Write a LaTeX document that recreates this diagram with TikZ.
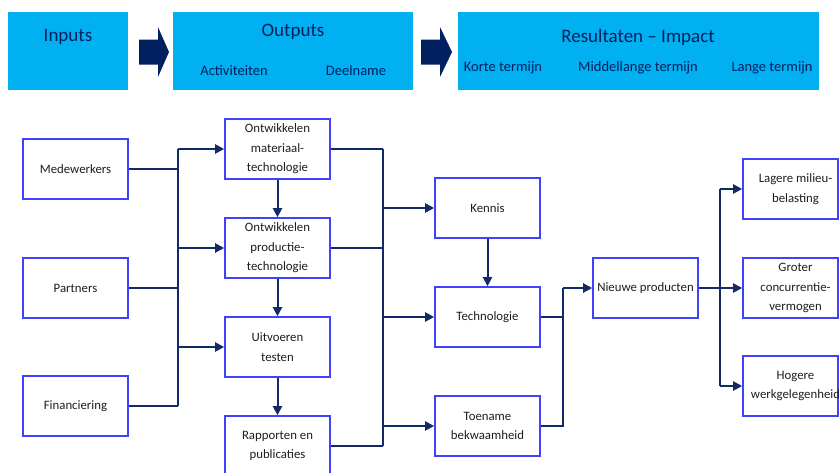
\documentclass[tikz,border=0pt]{standalone}
\usepackage{fontspec}
\setmainfont{Carlito}
\usetikzlibrary{arrows.meta}
\definecolor{banner}{RGB}{0,176,240}
\definecolor{navy}{RGB}{0,32,96}
\definecolor{linec}{RGB}{18,42,102}
\definecolor{boxblue}{RGB}{64,64,255}
\definecolor{txt}{RGB}{30,30,30}
\tikzset{
  banner/.style={fill=banner,draw=none},
  htitle/.style={text=navy,font=\fontsize{19}{22}\selectfont,inner sep=0pt},
  hsub/.style={text=navy,font=\fontsize{14.5}{17}\selectfont,inner sep=0pt},
  harrow/.style={fill=navy,draw=none},
  flowbox/.style={draw=boxblue,line width=1.6pt,fill=white,minimum width=105pt,minimum height=60pt,inner sep=0pt,align=center,text=txt,font=\fontsize{12.8}{19.5}\selectfont},
  sidebox/.style={flowbox,minimum width=95pt},
  boxtext/.style={inner sep=0pt,align=center,text=txt,font=\fontsize{12.8}{19.5}\selectfont},
  conn/.style={draw=linec,line width=2pt},
  arr/.style={conn,-{Triangle[length=9pt,width=9pt]}}
}
\begin{document}
\begin{tikzpicture}[x=1pt,y=-1pt]
\useasboundingbox (0,0) rectangle (839,472);
\clip (0,0) rectangle (839,472);
\fill[white] (0,0) rectangle (839,472);
% header banners
\fill[banner] (8,12) rectangle (128,90);
\node[htitle] (hin) at (68,37) {Inputs};
\fill[harrow] (139,39.5) -- (158,39.5) -- (158,27) -- (169,52) -- (158,77) -- (158,64.5) -- (139,64.5) -- cycle;
\fill[banner] (173,12) rectangle (413,90);
\node[htitle] (hout) at (293,32) {Outputs};
\node[hsub] (hact) at (234,71) {Activiteiten};
\node[hsub] (hdeel) at (356,71) {Deelname};
\fill[harrow] (421,39.5) -- (440,39.5) -- (440,27) -- (452,52) -- (440,77) -- (440,64.5) -- (421,64.5) -- cycle;
\fill[banner] (458,12) rectangle (819,90);
\node[htitle] (hres) at (638,37) {Resultaten – Impact};
\node[hsub] (hk) at (503,68) {Korte termijn};
\node[hsub] (hm) at (638,68) {Middellange termijn};
\node[hsub] (hl) at (772,68) {Lange termijn};
% boxes
\node[flowbox] (med) at (75.5,169) {Medewerkers};
\node[flowbox] (par) at (75.5,288) {Partners};
\node[flowbox] (fin) at (75.5,406) {Financiering};
\node[flowbox] (om) at (277.5,149) {Ontwikkelen\\materiaal-\\technologie};
\node[flowbox] (op) at (277.5,248) {Ontwikkelen\\productie-\\technologie};
\node[flowbox] (uit) at (277.5,347) {Uitvoeren\\testen};
\node[flowbox] (rap) at (277.5,446) {Rapporten en\\publicaties};
\node[flowbox] (ken) at (487.5,208) {Kennis};
\node[flowbox] (tech) at (487.5,317) {Technologie};
\node[flowbox] (toe) at (487.5,426) {Toename\\bekwaamheid};
\node[flowbox] (nieuw) at (645.5,288) {Nieuwe producten};
\node[sidebox] (lag) at (790.5,189) {};
\node[boxtext] at (795.5,189) {Lagere milieu-\\belasting};
\node[sidebox] (gro) at (790.5,288) {};
\node[boxtext] at (795.5,288) {Groter\\concurrentie-\\vermogen};
\node[sidebox] (hog) at (790.5,386) {};
\node[boxtext] at (795.5,386) {Hogere\\werkgelegenheid};
% left bus
\coordinate (b1t) at (178,149);
\coordinate (b1b) at (178,406);
\draw[conn] (b1t) -- (b1b);
\draw[conn] (med.east) -- (med.east -| b1t);
\draw[conn] (par.east) -- (par.east -| b1t);
\draw[conn] (fin.east) -- (fin.east -| b1t);
\draw[arr] (b1t) -- (om.west);
\draw[arr] (op.west -| b1t) -- (op.west);
\draw[arr] (uit.west -| b1t) -- (uit.west);
% vertical chain
\draw[arr] (om.south) -- (op.north);
\draw[arr] (op.south) -- (uit.north);
\draw[arr] (uit.south) -- (rap.north);
% middle bus
\coordinate (b2t) at (383,149);
\coordinate (b2b) at (383,446);
\draw[conn] (b2t) -- (b2b);
\draw[conn] (om.east) -- (b2t);
\draw[conn] (op.east) -- (op.east -| b2t);
\draw[conn] (rap.east) -- (b2b);
\draw[arr] (ken.west -| b2t) -- (ken.west);
\draw[arr] (tech.west -| b2t) -- (tech.west);
\draw[arr] (toe.west -| b2t) -- (toe.west);
\draw[arr] (ken.south) -- (tech.north);
% to nieuwe producten
\coordinate (b3) at (563,288);
\draw[conn] (toe.east) -| (b3);
\draw[conn] (tech.east) -| (b3);
\draw[arr] (b3) -- (nieuw.west);
% to impacts
\coordinate (b4t) at (720,189);
\coordinate (b4b) at (720,386);
\draw[conn] (b4t) -- (b4b);
\draw[arr] (nieuw.east) -- (gro.west);
\draw[arr] (b4t) -- (lag.west);
\draw[arr] (b4b) -- (hog.west);
\end{tikzpicture}
\end{document}
